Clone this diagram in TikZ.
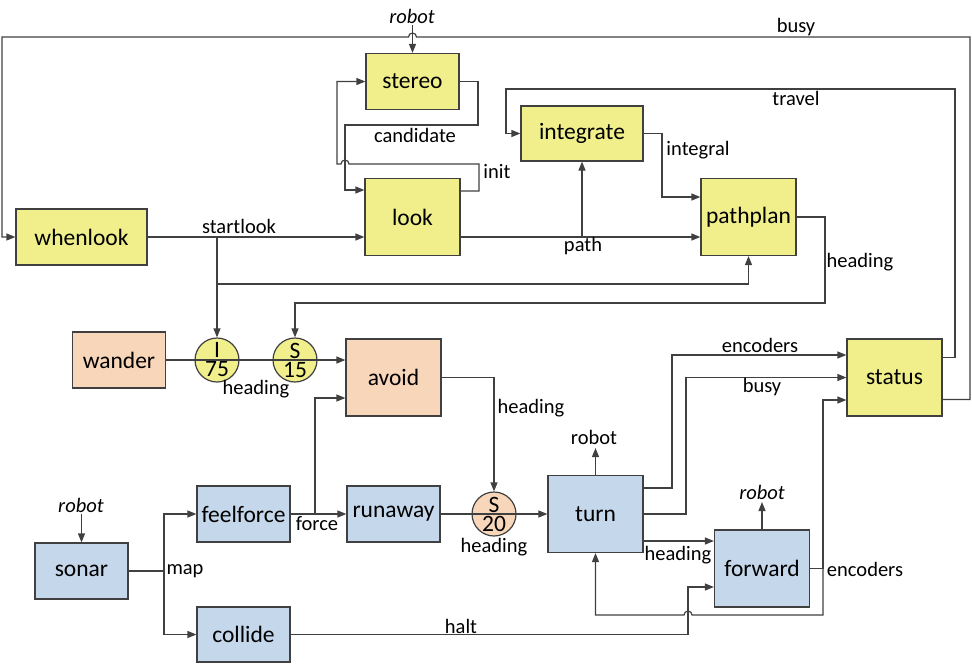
\documentclass[tikz,border=0pt]{standalone}
\usepackage{fontspec}
\setmainfont{Carlito}
\usetikzlibrary{arrows.meta}

\definecolor{linegray}{RGB}{64,64,64}
\definecolor{boxyellow}{RGB}{240,239,140}
\definecolor{boxorange}{RGB}{248,214,186}
\definecolor{boxblue}{RGB}{197,215,234}

\newcommand{\boxfont}{\fontsize{23.5}{28}\selectfont}
\newcommand{\priofont}{\fontsize{23.5}{19}\selectfont}
\newcommand{\lblfont}{\fontsize{20.5}{24}\selectfont}

\tikzstyle{block}=[draw=linegray,line width=1.2pt,minimum width=93pt,minimum height=56pt,inner sep=0pt,font=\boxfont]
\tikzstyle{ybox}=[block,fill=boxyellow]
\tikzstyle{obox}=[block,fill=boxorange]
\tikzstyle{bbox}=[block,fill=boxblue]
\tikzstyle{tall}=[minimum width=95pt,minimum height=77pt]
\tikzstyle{prio}=[circle,draw=linegray,line width=1.2pt,minimum size=44pt,inner sep=0pt,align=center,font=\priofont]
\tikzstyle{lbl}=[inner sep=0pt,font=\lblfont]
\tikzstyle{edge}=[draw=linegray,line width=1.2pt]
\tikzstyle{flow}=[edge,-{Triangle[length=9pt,width=7pt]}]

\begin{document}
\begin{tikzpicture}[x=1pt,y=-1pt]
\useasboundingbox (0,0) rectangle (972,665);

% upper part
\node[ybox] (stereo) at (412.5,81.5) {stereo};
\node[ybox,tall] (look) at (412.5,217) {look};
\node[ybox,minimum width=131pt] (whenlook) at (81.5,237) {whenlook};
\node[ybox,minimum width=122pt,minimum height=55pt] (integrate) at (582,133.5) {integrate};
\node[ybox,tall] (pathplan) at (748.5,217) {pathplan};

% middle part
\node[obox] (wander) at (119,360) {wander};
\node[prio,fill=boxyellow] (i75) at (217,360) {I\\75};
\node[prio,fill=boxyellow] (s15) at (295,360) {S\\15};
\node[obox,tall] (avoid) at (393.5,377.5) {avoid};
\node[ybox,tall] (status) at (894.5,377.5) {status};

% lower part
\node[bbox] (feelforce) at (243.5,514) {feelforce};
\node[bbox] (runaway) at (393.5,514) {runaway};
\node[prio,fill=boxorange] (s20) at (494,514) {S\\20};
\node[bbox,tall] (turn) at (595.5,514) {turn};
\node[bbox,tall] (forward) at (762,568.5) {forward};
\node[bbox] (sonar) at (81.5,571) {sonar};
\node[bbox,minimum height=55pt] (collide) at (243.5,634.5) {collide};

% robot inputs and outputs
\coordinate (rtop) at (412.5,25);
\node[lbl] at (412,16) {\textit{robot}};
\draw[flow] (rtop) to (stereo.north);
\coordinate (rsonar) at (81.5,514);
\node[lbl] at (81,505) {\textit{robot}};
\draw[flow] (rsonar) to (sonar.north);
\coordinate (rturn) at (595.5,448);
\node[lbl] at (594,437) {robot};
\draw[flow] (turn.north) to (rturn);
\coordinate (rforward) at (762,502);
\node[lbl] at (762,492) {\textit{robot}};
\draw[flow] (forward.north) to (rforward);

% stereo / look loop
\draw[flow] (stereo.east) -| (478,125) -| (345,190) -- ([yshift=27pt]look.west);
\node[lbl] at (415,135) {candidate};
\draw[flow] ([yshift=26pt]look.east) -| (479,164) -- (349,164)
  arc[start angle=0,end angle=-180,radius=4] -- (337,164) |- (stereo.west);
\node[lbl] at (497,172) {init};

% startlook
\draw[flow] (whenlook.east) -- ([yshift=-20pt]look.west);
\node[lbl] at (239,226) {startlook};
\draw[flow] (217,237) -- (i75.north);
\draw[flow] (217,284) -| (pathplan.south);

% path, integral, heading
\draw[flow] ([yshift=-20pt]look.east) -- ([yshift=-20pt]pathplan.west);
\node[lbl] at (583,246) {path};
\draw[flow] (582,237) -- (integrate.south);
\draw[flow] (integrate.east) -| (662,197) -- ([yshift=20pt]pathplan.west);
\node[lbl] at (698,150) {integral};
\draw[flow] (pathplan.east) -| (825,303) -| (s15.north);
\node[lbl] at (860,262) {heading};

% status feedback
\draw[flow] ([yshift=20pt]status.east) -| (955,89) -| (506,133.5) -- (integrate.west);
\node[lbl] at (796,98) {travel};
\draw[flow] ([yshift=-22pt]status.east) -| (970,37) -- (416.5,37)
  arc[start angle=0,end angle=-180,radius=4] -- (2,37) |- (whenlook.west);
\node[lbl] at (796,27) {busy};

% wander / avoid
\draw[edge] (wander.east) -- (i75.west) -- (i75.east) -- (s15.west) -- (s15.east);
\draw[flow] (s15.east) -- ([yshift=17.5pt]avoid.west);
\node[lbl] at (256,389) {heading};
\draw[flow] (avoid.east) -| (s20.north);
\node[lbl] at (531,408) {heading};

% sonar, feelforce, runaway
\draw[edge] (sonar.east) -- (164,571);
\draw[flow] (164,571) |- (feelforce.west);
\draw[flow] (164,571) |- (collide.west);
\node[lbl] at (185,571) {map};
\draw[flow] (feelforce.east) -- (runaway.west);
\draw[flow] (315,514) |- ([yshift=-20.5pt]avoid.west);
\node[lbl] at (317,524) {force};
\draw[edge] (runaway.east) -- (s20.west) -- (s20.east);
\draw[flow] (s20.east) -- (turn.west);
\node[lbl] at (494,547) {heading};

% turn / forward / status
\draw[flow] ([yshift=26pt]turn.east) -| (672,355) -- ([yshift=22.5pt]status.west);
\node[lbl] at (760,345) {encoders};
\draw[flow] (turn.east) -| (686,377.5) -- (status.west);
\node[lbl] at (762,387) {busy};
\draw[flow] ([yshift=-27pt]turn.east) -- ([yshift=27.5pt]forward.west);
\node[lbl] at (678,555) {heading};
\draw[flow] (forward.east) -| (823,400) -- ([yshift=-22.5pt]status.west);
\node[lbl] at (865,569) {encoders};
\draw[flow] (823,568.5) |- (692,615)
  arc[start angle=0,end angle=-180,radius=4] -- (595.5,615) -- (turn.south);
\draw[flow] (collide.east) -| (688,587) -- ([yshift=-18.5pt]forward.west);
\node[lbl] at (461,626) {halt};
\end{tikzpicture}
\end{document}
